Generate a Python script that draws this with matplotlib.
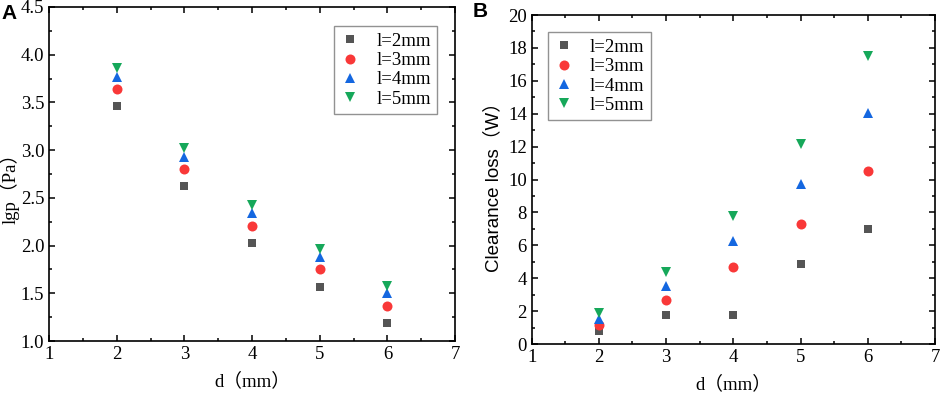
import matplotlib
matplotlib.use("Agg")
from matplotlib import pyplot as plt
from matplotlib.ticker import MultipleLocator

plt.rcParams["font.family"] = ["Liberation Serif", "Noto Sans CJK SC"]

d = [2, 3, 4, 5, 6]
labels = ["l=2mm", "l=3mm", "l=4mm", "l=5mm"]

# panel A: lgp (Pa)
lgp = [
    [3.46, 2.62, 2.03, 1.57, 1.19],
    [3.64, 2.80, 2.21, 1.75, 1.37],
    [3.77, 2.93, 2.34, 1.88, 1.50],
    [3.86, 3.02, 2.43, 1.96, 1.58],
]

# panel B: clearance loss (W)
loss = [
    [0.8, 1.75, 1.75, 4.85, 7.0],
    [1.15, 2.65, 4.68, 7.3, 10.5],
    [1.55, 3.5, 6.25, 9.75, 14.05],
    [1.9, 4.35, 7.8, 12.15, 17.5],
]

markers = ["s", "o", "^", "v"]
colors = ["#555555", "#f93838", "#1467e0", "#16a85a"]
sizes = [6.2, 7.2, 7.8, 7.8]


def style_axes(ax):
    for spine in ax.spines.values():
        spine.set_linewidth(1.2)
    ax.tick_params(which="both", direction="in", top=True, right=True,
                   labelsize=13.5, width=1.1)
    ax.tick_params(which="major", length=4.5)
    ax.tick_params(which="minor", length=2.5)
    ax.xaxis.set_major_locator(MultipleLocator(1))
    ax.xaxis.set_minor_locator(MultipleLocator(0.5))
    ax.set_xlim(1, 7)


fig = plt.figure(figsize=(9.41, 3.95), dpi=100)
ax1 = fig.add_axes([0.0521, 0.1367, 0.4315, 0.8456])
ax2 = fig.add_axes([0.565, 0.129, 0.4286, 0.833])

for i in range(4):
    ax1.plot(d, lgp[i], linestyle="none", marker=markers[i],
             markersize=sizes[i], color=colors[i], markeredgewidth=0,
             label=labels[i])
    ax2.plot(d, loss[i], linestyle="none", marker=markers[i],
             markersize=sizes[i], color=colors[i], markeredgewidth=0,
             label=labels[i])

style_axes(ax1)
ax1.set_ylim(1.0, 4.5)
ax1.yaxis.set_major_locator(MultipleLocator(0.5))
ax1.yaxis.set_minor_locator(MultipleLocator(0.25))
ax1.set_xlabel("d（mm）", fontsize=13.5, labelpad=7)
ax1.set_ylabel("lgp（Pa）", fontsize=13.5)
ax1.yaxis.set_label_coords(-0.072, 0.47)

style_axes(ax2)
ax2.set_ylim(0, 20)
ax2.yaxis.set_major_locator(MultipleLocator(2))
ax2.yaxis.set_minor_locator(MultipleLocator(1))
ax2.set_xlabel("d（mm）", fontsize=13.5, labelpad=7)
ax2.set_ylabel("Clearance loss（W）", fontsize=13.5,
               family=["Liberation Sans", "Noto Sans CJK SC"])
ax2.yaxis.set_label_coords(-0.074, 0.49)

for ax, loc, anchor in [(ax1, "upper right", (0.956, 0.943)),
                        (ax2, "upper left", (0.04, 0.948))]:
    leg = ax.legend(loc=loc, bbox_to_anchor=anchor, fontsize=13.5,
                    frameon=True, fancybox=False, handlelength=1.0,
                    handletextpad=0.9, borderpad=0.35, labelspacing=0.12,
                    borderaxespad=0)
    leg.get_frame().set_edgecolor("#777777")
    leg.get_frame().set_linewidth(1.0)

fig.text(0.002, 0.965, "A", fontsize=15, fontweight="bold",
         family="Liberation Sans", va="center")
fig.text(0.502, 0.97, "B", fontsize=15, fontweight="bold",
         family="Liberation Sans", va="center")

fig.savefig("out.png", dpi=100)
